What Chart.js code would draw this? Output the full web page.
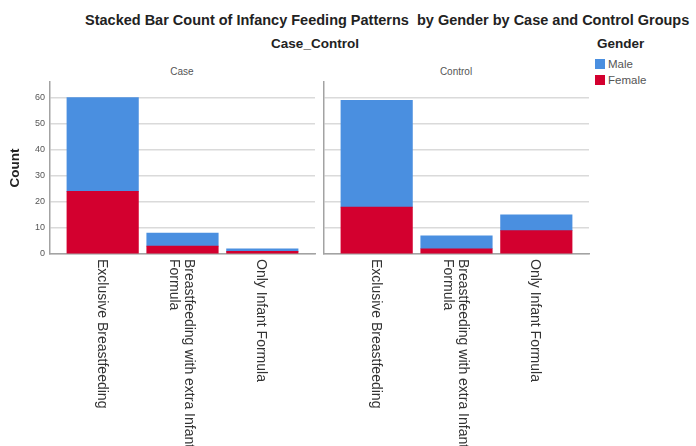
<!DOCTYPE html>
<html><head><meta charset="utf-8">
<script src="https://cdn.jsdelivr.net/npm/chart.js@4/dist/chart.umd.min.js"></script>
<style>
html,body{margin:0;padding:0;background:#fff;width:696px;height:446px;overflow:hidden;font-family:"Liberation Sans",Arial,sans-serif;}
.t{position:absolute;white-space:pre;color:#222;font-weight:bold;line-height:16px;}
.h{position:absolute;white-space:pre;color:#555;font-size:10px;line-height:12px;text-align:center;}
.lg{position:absolute;white-space:pre;color:#555;font-size:11.5px;line-height:12px;}
.sw{position:absolute;width:10px;height:10px;}
.box{position:absolute;top:60px;height:386px;}
</style></head><body>
<div class="t" id="mainTitle" style="left:85px;top:12px;font-size:14.5px"></div>
<div class="t" id="groupTitle" style="left:215px;width:200px;text-align:center;top:36px;font-size:13.5px"></div>
<div class="t" id="legendTitle" style="left:597px;top:36px;font-size:13.5px"></div>
<div class="sw" id="sw0" style="left:595px;top:59px"></div><div class="lg" id="lg0" style="left:608px;top:58px"></div>
<div class="sw" id="sw1" style="left:595px;top:75px"></div><div class="lg" id="lg1" style="left:608px;top:74px"></div>
<div class="h" id="ph0" style="left:132px;width:100px;top:66px"></div>
<div class="h" id="ph1" style="left:406px;width:100px;top:66px"></div>
<div class="box" style="left:0;width:320px"><canvas id="c1"></canvas></div>
<div class="box" style="left:300px;width:296px"><canvas id="c2"></canvas></div>
<script>
// ---- data ----
const mainTitle = 'Stacked Bar Count of Infancy Feeding Patterns  by Gender by Case and Control Groups';
const groupTitle = 'Case_Control';
const legendTitle = 'Gender';
const groups = ['Case', 'Control'];
const seriesNames = ['Male', 'Female'];
const categories = ['Exclusive Breastfeeding', 'Breastfeeding with extra Infant Formula', 'Only Infant Formula'];
const tickLabels = [['Exclusive Breastfeeding'], ['Breastfeeding with extra Infant', 'Formula'], ['Only Infant Formula']];
const caseMale = [36, 5, 1];
const caseFemale = [24, 3, 1];
const controlMale = [41, 5, 6];
const controlFemale = [18, 2, 9];
const yTicks = [0, 10, 20, 30, 40, 50, 60];
const yTitle = 'Count';

const colors = {Male: '#4a8fe0', Female: '#d3002f'};

document.getElementById('mainTitle').textContent = mainTitle;
document.getElementById('groupTitle').textContent = groupTitle;
document.getElementById('legendTitle').textContent = legendTitle;
seriesNames.forEach((n, i) => {
  document.getElementById('lg' + i).textContent = n;
  document.getElementById('sw' + i).style.background = colors[n];
});
groups.forEach((g, i) => document.getElementById('ph' + i).textContent = g);

const labelPlugin = {
  id: 'rotLabels',
  afterDraw(chart) {
    const ctx = chart.ctx, x = chart.scales.x, bottom = chart.chartArea.bottom;
    ctx.save();
    ctx.font = '14px "Liberation Sans", Arial, sans-serif';
    ctx.fillStyle = '#333';
    ctx.textAlign = 'left';
    ctx.textBaseline = 'middle';
    const lh = 15;
    tickLabels.forEach((lines, i) => {
      const px = x.getPixelForValue(i);
      ctx.save();
      ctx.translate(px, bottom + 5);
      ctx.rotate(Math.PI / 2);
      lines.forEach((ln, j) => {
        ctx.fillText(ln, 0, (j - (lines.length - 1) / 2) * lh + 1);
      });
      ctx.restore();
    });
    ctx.restore();
  }
};

function makeChart(id, male, female, showY, yWidth, padRight) {
  return new Chart(document.getElementById(id), {
    type: 'bar',
    data: {
      datasets: [
        {label: 'Female', data: female.map((v, i) => ({x: i, y: v})), backgroundColor: colors.Female, borderWidth: 0},
        {label: 'Male', data: male.map((v, i) => ({x: i, y: v})), backgroundColor: colors.Male, borderWidth: 0}
      ]
    },
    options: {
      responsive: true, maintainAspectRatio: false, animation: false, devicePixelRatio: 1,
      layout: {padding: {top: 22, right: padRight, left: 0, bottom: 0}},
      datasets: {bar: {barThickness: 71.5}},
      plugins: {legend: {display: false}, tooltip: {enabled: false}, title: {display: false}},
      scales: {
        x: {
          type: 'linear', min: -0.66, max: 2.66, stacked: true, offset: false,
          ticks: {display: false}, grid: {display: false},
          border: {display: true, color: '#a3a3a3', width: 1.5},
          afterFit(s) { s.height = 192; }
        },
        y: {
          min: 0, max: 66, stacked: true,
          afterBuildTicks(s) { s.ticks = yTicks.map(v => ({value: v})); },
          ticks: {display: showY, padding: 5, color: '#555', font: {size: 9, family: '"Liberation Sans", Arial, sans-serif'}},
          grid: {color: '#dadada', lineWidth: 1.5, drawTicks: false},
          border: {display: true, color: '#a3a3a3', width: 1.5},
          title: {display: showY, text: yTitle, color: '#222', padding: {top: 7, bottom: 0},
                  font: {size: 13.5, weight: 'bold', family: '"Liberation Sans", Arial, sans-serif'}},
          afterFit(s) { s.width = yWidth; }
        }
      }
    },
    plugins: [labelPlugin]
  });
}

makeChart('c1', caseMale, caseFemale, true, 50, 5);
makeChart('c2', controlMale, controlFemale, false, 24, 7);
</script>
</body></html>
